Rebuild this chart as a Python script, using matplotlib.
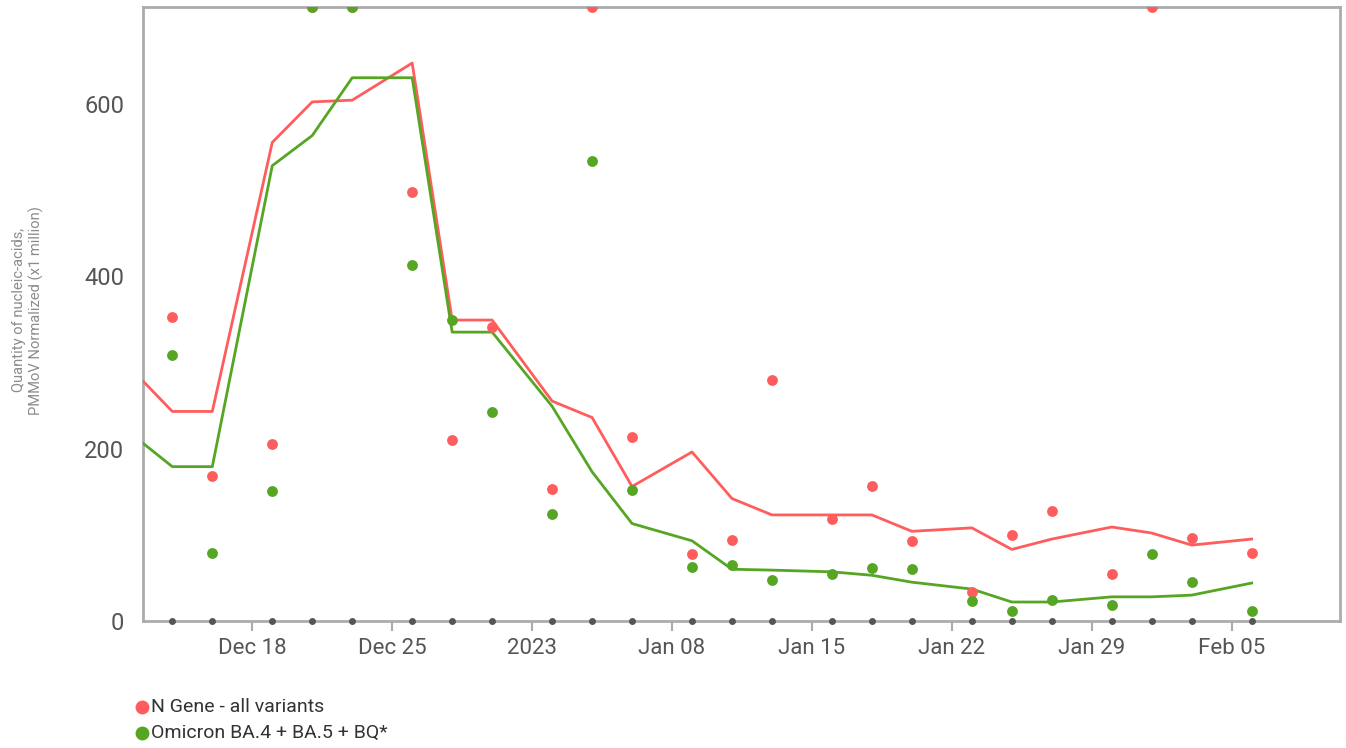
import datetime as dt

import matplotlib
matplotlib.use('Agg')
import matplotlib.pyplot as plt
import matplotlib.dates as mdates
import matplotlib.ticker as ticker

plt.rcParams['font.family'] = ['Roboto', 'DejaVu Sans']

Y_TOP = 712  # values above this sit on the top edge of the chart

sample_dates = ['2022-12-14', '2022-12-16', '2022-12-19', '2022-12-21', '2022-12-23',
                '2022-12-26', '2022-12-28', '2022-12-30', '2023-01-02', '2023-01-04',
                '2023-01-06', '2023-01-09', '2023-01-11', '2023-01-13', '2023-01-16',
                '2023-01-18', '2023-01-20', '2023-01-23', '2023-01-25', '2023-01-27',
                '2023-01-30', '2023-02-01', '2023-02-03', '2023-02-06']
n_gene = [353, 168, 205, 712, 712, 498, 210, 341, 153, 712, 213, 78,
          94, 279, 118, 157, 93, 34, 100, 128, 54, 712, 96, 79]
omicron = [308, 79, 151, 712, 712, 413, 349, 242, 124, 534, 152, 63,
           65, 48, 54, 61, 60, 23, 12, 24, 18, 78, 45, 12]

trend_dates = ['2022-12-12'] + sample_dates
n_gene_trend = [291, 243, 243, 555, 602, 604, 647, 349, 349, 255, 236, 156, 196,
                142, 123, 123, 123, 104, 108, 83, 95, 109, 102, 88, 95]
omicron_trend = [216, 179, 179, 528, 563, 630, 630, 335, 335, 249, 173, 113, 93,
                 60, 59, 57, 53, 45, 37, 22, 22, 28, 28, 30, 44]

RED = '#ff5d5d'
GREEN = '#56a624'
GRAY_DOT = '#555555'
FRAME = '#ababab'


def to_dates(values):
    return [dt.datetime.strptime(v, '%Y-%m-%d') for v in values]


def date_label(x, pos):
    d = mdates.num2date(x)
    if d.month == 1 and d.day == 1:
        return str(d.year)
    return d.strftime('%b %d')


x_samples = to_dates(sample_dates)
x_trend = to_dates(trend_dates)

fig = plt.figure(figsize=(13.46, 7.48), dpi=100)
ax = fig.add_axes([0.1062, 0.1698, 0.8893, 0.8208])

ax.plot(x_trend, n_gene_trend, color=RED, lw=2.0, zorder=3)
ax.plot(x_trend, omicron_trend, color=GREEN, lw=2.0, zorder=3)
ax.plot(x_samples, n_gene, 'o', color=RED, ms=7.8, mec='none', zorder=4)
ax.plot(x_samples, omicron, 'o', color=GREEN, ms=7.8, mec='none', zorder=5)
ax.plot(x_samples, [0] * len(x_samples), 'o', color=GRAY_DOT, ms=5, mec='none',
        zorder=6, clip_on=False)

ax.set_xlim(dt.datetime(2022, 12, 12, 12, 43), dt.datetime(2023, 2, 10, 10))
ax.set_ylim(0, Y_TOP)

ax.xaxis.set_major_locator(mdates.WeekdayLocator(byweekday=mdates.SU))
ax.xaxis.set_major_formatter(ticker.FuncFormatter(date_label))
ax.yaxis.set_major_locator(ticker.MultipleLocator(200))

for side in ax.spines.values():
    side.set_color(FRAME)
    side.set_linewidth(2)

ax.tick_params(axis='x', length=7, width=1.5, color=FRAME, labelcolor='#555555',
               labelsize=16, pad=5)
ax.tick_params(axis='y', length=0, labelcolor='#555555', labelsize=17, pad=13.5)

fig.text(0.021, 0.585, 'Quantity of nucleic-acids,\nPMMoV Normalized (x1 million)',
         rotation=90, ha='center', va='center', fontsize=10.6, color='#8c8c8c',
         multialignment='center')

# legend under the chart
for i, (label, color) in enumerate([('N Gene - all variants', RED),
                                    ('Omicron BA.4 + BA.5 + BQ*', GREEN)]):
    y = 1 - (707 + 26 * i) / 748
    fig.lines.append(plt.Line2D([142 / 1346], [y], marker='o', color=color, ms=10,
                                mec='none', transform=fig.transFigure))
    fig.text(151 / 1346, y, label, ha='left', va='center', fontsize=14, color='#333333')

fig.savefig('out.png', dpi=100)
